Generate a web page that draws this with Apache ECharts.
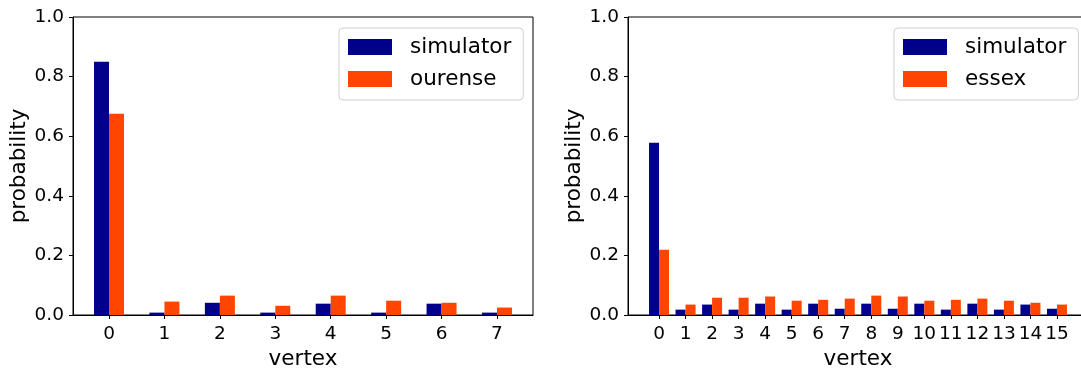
<!DOCTYPE html>
<html>
<head>
<meta charset="utf-8">
<script src="https://cdn.jsdelivr.net/npm/echarts@6/dist/echarts.min.js"></script>
<style>
  html, body { margin: 0; padding: 0; background: #fff; }
  #main { width: 1081px; height: 369px; }
</style>
</head>
<body>
<div id="main"></div>
<script>
    // data
    var leftVertices = [0, 1, 2, 3, 4, 5, 6, 7];
    var leftSimulator = [0.85, 0.008, 0.041, 0.008, 0.038, 0.008, 0.038, 0.008];
    var ourense = [0.675, 0.045, 0.065, 0.031, 0.065, 0.048, 0.041, 0.025];

    var rightVertices = [0, 1, 2, 3, 4, 5, 6, 7, 8, 9, 10, 11, 12, 13, 14, 15];
    var rightSimulator = [0.578, 0.018, 0.035, 0.018, 0.038, 0.018, 0.038, 0.021,
        0.038, 0.021, 0.038, 0.018, 0.038, 0.018, 0.035, 0.021];
    var essex = [0.219, 0.035, 0.058, 0.058, 0.062, 0.048, 0.051, 0.055,
        0.065, 0.062, 0.048, 0.051, 0.055, 0.048, 0.041, 0.035];

    var FONT = 'DejaVu Sans';
    var BLUE = '#00008B';
    var RED = '#FF4500';

    function pairs(xs, ys) {
        return xs.map(function (x, i) { return [x, ys[i]]; });
    }

    function xAxisFor(idx, vals, min, max) {
        return {
            type: 'value',
            gridIndex: idx,
            min: min,
            max: max,
            name: 'vertex',
            nameLocation: 'middle',
            nameGap: 33,
            nameTextStyle: { fontFamily: FONT, fontSize: 21.5, color: '#000' },
            splitLine: { show: false },
            axisLine: { show: true, onZero: false, lineStyle: { color: '#000', width: 1 } },
            axisTick: { show: true, length: 4, customValues: vals, lineStyle: { color: '#000' } },
            axisLabel: { customValues: vals, margin: 10, fontFamily: FONT, fontSize: 18.5, color: '#000' }
        };
    }

    function yAxisFor(idx) {
        return {
            type: 'value',
            gridIndex: idx,
            min: 0,
            max: 1,
            interval: 0.2,
            name: 'probability',
            nameLocation: 'middle',
            nameGap: 43,
            nameTextStyle: { fontFamily: FONT, fontSize: 21.5, color: '#000' },
            splitLine: { show: false },
            axisLine: { show: true, onZero: false, lineStyle: { color: '#000', width: 1 } },
            axisTick: { show: true, length: 4, lineStyle: { color: '#000' } },
            axisLabel: {
                margin: 9, fontFamily: FONT, fontSize: 18.5, color: '#000',
                formatter: function (v) { return v.toFixed(1); }
            }
        };
    }

    function legendFor(left, names) {
        return {
            orient: 'vertical',
            left: left,
            top: 28,
            data: names,
            itemWidth: 44,
            itemHeight: 16,
            itemGap: 10,
            padding: [8, 12, 10, 9],
            borderColor: '#d0d0d0',
            borderWidth: 1,
            borderRadius: 4,
            icon: 'rect',
            textStyle: { fontFamily: FONT, fontSize: 21.5, color: '#000', padding: [0, 0, 0, 13] }
        };
    }

    var myChart = echarts.init(document.getElementById('main'), null, { renderer: 'canvas' });

    var option = {
        animation: false,
        backgroundColor: '#fff',
        grid: [
            { left: 73, top: 17, width: 460, height: 298, outerBoundsMode: 'none',
              show: true, borderColor: '#000', borderWidth: 1 },
            { left: 628, top: 17, width: 460, height: 298, outerBoundsMode: 'none',
              show: true, borderColor: '#000', borderWidth: 1 }
        ],
        legend: [
            legendFor(339, ['simulator', 'ourense']),
            legendFor(894, ['simulator', 'essex'])
        ],
        xAxis: [
            xAxisFor(0, leftVertices, -0.65, 7.65),
            xAxisFor(1, rightVertices, -1.17, 16.17)
        ],
        yAxis: [yAxisFor(0), yAxisFor(1)],
        series: [
            {
                name: 'simulator', type: 'bar', xAxisIndex: 0, yAxisIndex: 0,
                barWidth: 15, barGap: '0%', itemStyle: { color: BLUE },
                data: pairs(leftVertices, leftSimulator)
            },
            {
                name: 'ourense', type: 'bar', xAxisIndex: 0, yAxisIndex: 0,
                barWidth: 15, barGap: '0%', itemStyle: { color: RED },
                data: pairs(leftVertices, ourense)
            },
            {
                name: 'simulator', type: 'bar', xAxisIndex: 1, yAxisIndex: 1,
                barWidth: 10, barGap: '0%', itemStyle: { color: BLUE },
                data: pairs(rightVertices, rightSimulator)
            },
            {
                name: 'essex', type: 'bar', xAxisIndex: 1, yAxisIndex: 1,
                barWidth: 10, barGap: '0%', itemStyle: { color: RED },
                data: pairs(rightVertices, essex)
            }
        ]
    };
    myChart.setOption(option);
</script>
</body>
</html>
